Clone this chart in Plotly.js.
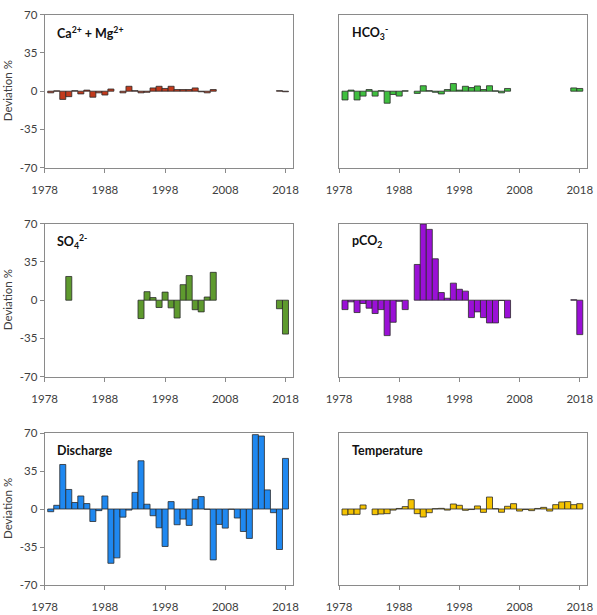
<!DOCTYPE html>
<html>
<head>
<meta charset="utf-8">
<script src="https://cdn.plot.ly/plotly-3.0.1.min.js"></script>
<style>html,body{margin:0;padding:0;background:#fff;}#chart{width:597px;height:615px;}</style>
</head>
<body>
<div id="chart"></div>
<script>
const years = [1979,1980,1981,1982,1983,1984,1985,1986,1987,1988,
               1989,1990,1991,1992,1993,1994,1995,1996,1997,1998,
               1999,2000,2001,2002,2003,2004,2005,2006,2007,2008,
               2009,2010,2011,2012,2013,2014,2015,2016,2017,2018];

const caMg = [-1.5,0.3,-7.5,-5,0.5,-2.5,1,-5.5,-1.5,-3.5,
              2,null,-1.5,4.5,0.5,-1.5,-1,3,4.5,2.5,
              4.5,1.5,1.5,1.5,3,-0.5,-1.5,1.5,null,null,
              null,null,null,null,null,null,null,null,0.5,-0.5];

const hco3 = [-8,1,-8,-4.5,1.5,-4.5,0.5,-11,-3,-4.5,
              0.4,null,-2,5,0.5,-1,-2.5,1.5,7,1,
              4.5,3.3,4.8,1.5,5,0.3,-1.5,2.5,null,null,
              null,null,null,null,null,null,null,null,3,2.5];

const so4 = [null,null,null,21.7,null,null,null,null,null,null,
             null,null,null,null,null,-16.8,7.8,2.4,-6.7,7.4,
             -7,-16.3,14.2,22.5,-8.7,-10.7,2.9,25.5,null,null,
             null,null,null,null,null,null,null,null,-7.8,-31];

const pco2 = [-8.6,-1.5,-11.3,-3,-7.3,-12.2,-8.6,-32.4,-20.2,-1,
              -8.6,null,32.7,69.7,64.8,37.9,7,1.8,15.6,10,
              8.3,-15.9,-10.7,-15.9,-20.8,-20.8,-0.3,-16.2,null,null,
              null,null,null,null,null,null,null,null,0.4,-31.5];

const discharge = [-2.5,3.4,41,18,6,12,5,-11.5,-1.5,12,
                   -50,-45,-7.5,-1,15.3,44.4,4.4,-6.2,-17.3,-34.5,
                   6.8,-14.5,-9.3,-15.1,9,11.4,-0.3,-46.9,-14.2,-17.6,
                   -0.3,-8.3,-20.7,-27.1,68.5,67.2,17.6,-3.4,-37.3,46.6];

const temperature = [-5.5,-4.9,-4.9,3.7,null,-5.2,-4.6,-4.3,-1,0.5,
                     2.2,8.6,-4.3,-7.4,-3.4,0.3,0.6,-1,4.6,3.4,
                     -1.2,-0.5,2.8,-3.1,11,0.3,-3,2.5,4.9,-1.9,
                     -0.5,-1.5,0.5,1.5,-1.9,4,6.5,6.8,4,4.9];

const panelLabels = ["Ca<sup>2+</sup> + Mg<sup>2+</sup>", "HCO<sub>3</sub><sup>-</sup>",
                     "SO<sub>4</sub><sup>2-</sup>", "pCO<sub>2</sub>",
                     "Discharge", "Temperature"];
const xTicks = [1978,1988,1998,2008,2018];
const yTicks = [-70,-35,0,35,70];
const yTitle = "Deviation %";

const series = [caMg, hco3, so4, pco2, discharge, temperature];
const colors = ["#c23a1c", "#3fbf3f", "#5e9a2e", "#9a10d6", "#1f88f0", "#f5c300"];

const W = 597, H = 615;
const colX = [[44.7, 292.7], [339, 587]];
const rowY = [[14.7, 167.7], [223.7, 376.7], [433, 585]];

const traces = [];
const layout = {
  width: W, height: H,
  margin: {l: 0, r: 0, t: 0, b: 0},
  paper_bgcolor: "#fff", plot_bgcolor: "#fff",
  showlegend: false,
  bargap: 0,
  font: {family: "Lato, 'Open Sans', sans-serif", size: 11.5, color: "#404040"},
  annotations: []
};

series.forEach((vals, i) => {
  const r = Math.floor(i / 2), c = i % 2;
  const n = i + 1;
  const xa = "x" + (n === 1 ? "" : n), ya = "y" + (n === 1 ? "" : n);
  traces.push({
    type: "bar", x: years, y: vals, width: 1,
    xaxis: xa, yaxis: ya,
    marker: {color: colors[i], line: {color: "#2a2a2a", width: 0.8}},
    hoverinfo: "x+y"
  });
  const xd = [colX[c][0] / W, colX[c][1] / W];
  const yd = [1 - rowY[r][1] / H, 1 - rowY[r][0] / H];
  layout["xaxis" + (n === 1 ? "" : n)] = {
    domain: xd, anchor: ya, range: [1978, 2019.2],
    tickvals: xTicks, ticktext: xTicks.map(String),
    ticks: "outside", ticklen: 4, tickcolor: "#8a8a8a",
    showline: true, mirror: true, linecolor: "#8a8a8a", linewidth: 1,
    showgrid: false, zeroline: false, ticklabelstandoff: 7,
    tickfont: {size: 11.5, color: "#404040"}
  };
  layout["yaxis" + (n === 1 ? "" : n)] = {
    domain: yd, anchor: xa, range: [-70, 70],
    tickvals: yTicks, ticktext: yTicks.map(String),
    ticks: c === 0 ? "outside" : "", ticklen: 4, tickcolor: "#8a8a8a",
    showticklabels: c === 0,
    showline: true, mirror: true, linecolor: "#8a8a8a", linewidth: 1,
    showgrid: false, zeroline: false,
    tickfont: {size: 11.5, color: "#404040"}
  };
  layout.annotations.push({
    xref: "paper", yref: "paper",
    x: (colX[c][0] + 10.5) / W, y: 1 - (rowY[r][0] + 17.5) / H,
    xanchor: "left", yanchor: "middle",
    text: "<b>" + panelLabels[i] + "</b>", showarrow: false,
    font: {size: 12.5, color: "#111", family: "Lato, sans-serif"}
  });
  if (c === 0) {
    layout.annotations.push({
      xref: "paper", yref: "paper",
      x: 7 / W, y: 1 - ((rowY[r][0] + rowY[r][1]) / 2) / H,
      xanchor: "center", yanchor: "middle", textangle: -90,
      text: yTitle, showarrow: false,
      font: {size: 11.5, color: "#404040"}
    });
  }
});

Plotly.newPlot("chart", traces, layout, {staticPlot: true, displayModeBar: false});
</script>
</body>
</html>
